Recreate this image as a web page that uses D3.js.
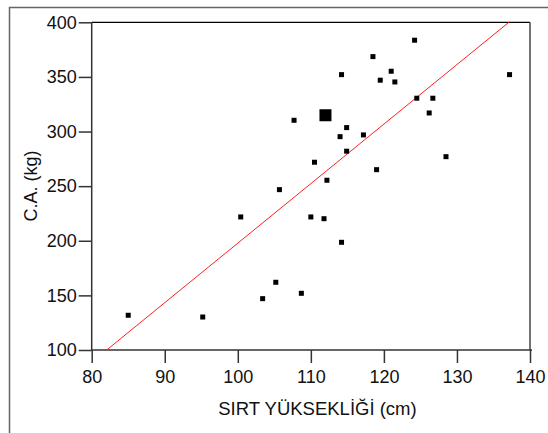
<!DOCTYPE html>
<html>
<head>
<meta charset="utf-8">
<script src="https://cdn.jsdelivr.net/npm/d3@7"></script>
<style>
  body { margin: 0; background: #fff; }
  text { font-family: "Liberation Sans", Arial, sans-serif; fill: #111; }
</style>
</head>
<body>
<div id="chart"></div>
<script>
// data
var sirt = [124.2, 118.5, 114.2, 121.0, 119.5, 121.5, 137.2, 124.5, 126.7, 126.2,
            107.7, 114.9, 114.0, 117.2, 114.9, 110.5, 119.0, 128.5, 112.2, 105.7,
            110.0, 111.8, 114.2, 105.2, 103.4, 108.7, 85.0, 95.2, 100.4];
var ca = [383.6, 368.6, 352.1, 355.2, 347.0, 345.4, 352.1, 330.5, 330.5, 317.0,
          310.3, 303.6, 295.3, 296.9, 282.0, 271.9, 265.1, 277.0, 255.4, 246.8,
          221.8, 220.2, 198.6, 162.0, 147.0, 151.9, 131.8, 130.2, 221.8];
// the highlighted (mean) point
var meanX = [112.0];
var meanY = [314.9];
// fitted line ends
var fitX = [82.05, 137.1];
var fitY = [100, 400];

var xTicks = [80, 90, 100, 110, 120, 130, 140];
var yTicks = [100, 150, 200, 250, 300, 350, 400];

var svgWidth = 548;
var svgHeight = 433;

var margin = {top: 22.3, right: 18, bottom: 83, left: 91.7};
var width = 530 - margin.left;
var height = 350 - margin.top;

var svg = d3.select("#chart")
  .append("svg")
  .attr("width", svgWidth)
  .attr("height", svgHeight);

// outer frame (only top and left show)
svg.append("path")
  .attr("d", "M9.5," + svgHeight + "V7.5H" + svgWidth)
  .attr("fill", "none")
  .attr("stroke", "#666")
  .attr("stroke-width", 1.5);

var chartGroup = svg.append("g")
  .attr("transform", `translate(${margin.left}, ${margin.top})`);

var xScale = d3.scaleLinear().domain([80, 140]).range([0, width]);
var yScale = d3.scaleLinear().domain([100, 400]).range([height, 0]);

// top and right box lines
chartGroup.append("line")
  .attr("x1", 0).attr("x2", width).attr("y1", 0).attr("y2", 0)
  .attr("stroke", "#000").attr("stroke-width", 1.2);
chartGroup.append("line")
  .attr("x1", width).attr("x2", width).attr("y1", 0).attr("y2", height)
  .attr("stroke", "#444").attr("stroke-width", 1.5);

var bottomAxis = d3.axisBottom(xScale).tickValues(xTicks).tickSize(13).tickPadding(7);
var leftAxis = d3.axisLeft(yScale).tickValues(yTicks).tickSize(13).tickPadding(2);

var xg = chartGroup.append("g")
  .attr("transform", `translate(0, ${height})`)
  .call(bottomAxis);
var yg = chartGroup.append("g")
  .call(leftAxis);

[xg, yg].forEach(function(g) {
  g.select(".domain").attr("stroke", "#333").attr("stroke-width", 1.5);
  g.selectAll(".tick line").attr("stroke", "#333").attr("stroke-width", 1.5);
  g.selectAll(".tick text")
    .attr("font-family", "Liberation Sans, Arial, sans-serif")
    .attr("font-size", 18)
    .attr("fill", "#111");
});
xg.select(".domain").attr("d", `M0,0H${width + 2}`);
yg.select(".domain").attr("d", `M0,${height}V0`);

// regression line
chartGroup.append("line")
  .attr("x1", xScale(fitX[0])).attr("y1", yScale(fitY[0]))
  .attr("x2", xScale(fitX[1])).attr("y2", yScale(fitY[1]))
  .attr("stroke", "#ff2020")
  .attr("stroke-width", 1);

// points
var s = 5;
chartGroup.selectAll("rect.pt")
  .data(d3.range(sirt.length))
  .enter()
  .append("rect")
  .attr("class", "pt")
  .attr("x", i => xScale(sirt[i]) - s / 2)
  .attr("y", i => yScale(ca[i]) - s / 2)
  .attr("width", s)
  .attr("height", s)
  .attr("fill", "#000");

var big = 12;
chartGroup.selectAll("rect.mean")
  .data(meanX)
  .enter()
  .append("rect")
  .attr("class", "mean")
  .attr("x", (d, i) => xScale(d) - big / 2)
  .attr("y", (d, i) => yScale(meanY[i]) - big / 2)
  .attr("width", big)
  .attr("height", big)
  .attr("fill", "#000");

// axis titles
svg.append("text")
  .attr("x", 317.5)
  .attr("y", 415)
  .attr("text-anchor", "middle")
  .attr("font-size", 18.5)
  .text("SIRT YÜKSEKLİĞİ (cm)");

svg.append("text")
  .attr("transform", "rotate(-90)")
  .attr("x", -186)
  .attr("y", 37)
  .attr("text-anchor", "middle")
  .attr("font-size", 18)
  .text("C.A. (kg)");
</script>
</body>
</html>
